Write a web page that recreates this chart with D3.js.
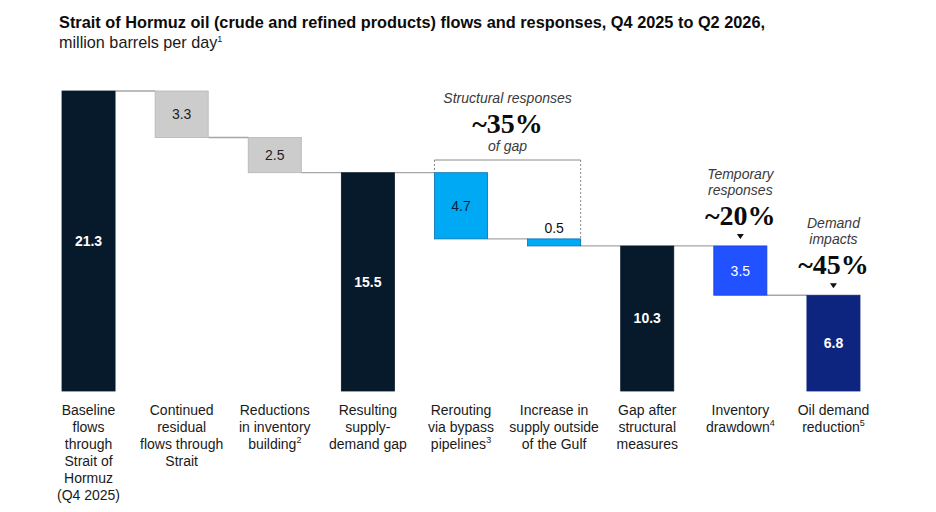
<!DOCTYPE html>
<html>
<head>
<meta charset="utf-8">
<script src="https://cdn.jsdelivr.net/npm/d3@7"></script>
<style>
  html, body { margin: 0; padding: 0; background: #fff; }
  svg { display: block; font-family: "Liberation Sans", Arial, sans-serif; }
</style>
</head>
<body>
<svg id="chart" width="936" height="512"></svg>
<script>
// ---------- DATA ----------
const titleText = "Strait of Hormuz oil (crude and refined products) flows and responses, Q4 2025 to Q2 2026,";
const subtitleText = "million barrels per day";
const subtitleNote = "1";

const categories = [
  ["Baseline", "flows", "through", "Strait of", "Hormuz", "(Q4 2025)"],
  ["Continued", "residual", "flows through", "Strait"],
  ["Reductions", "in inventory", "building"],
  ["Resulting", "supply-", "demand gap"],
  ["Rerouting", "via bypass", "pipelines"],
  ["Increase in", "supply outside", "of the Gulf"],
  ["Gap after", "structural", "measures"],
  ["Inventory", "drawdown"],
  ["Oil demand", "reduction"]
];
const categoryNotes = ["", "", "2", "", "3", "", "", "4", "5"];
const values = [21.3, -3.3, -2.5, 15.5, -4.7, -0.5, 10.3, -3.5, 6.8];
const barKinds = ["total", "residual", "residual", "total", "structural", "structural", "total", "temporary", "demand"];
const valueLabels = ["21.3", "3.3", "2.5", "15.5", "4.7", "0.5", "10.3", "3.5", "6.8"];

const annotationTitles = [["Structural responses"], ["Temporary", "responses"], ["Demand", "impacts"]];
const annotationPcts = ["~35%", "~20%", "~45%"];
const annotationSubs = ["of gap", "", ""];
const annotationBars = [[4, 5], [7], [8]];

// ---------- STYLES ----------
const fill = {
  total: "#071a2b", residual: "#cccccc", structural: "#00a9f4",
  temporary: "#2251ff", demand: "#0e2580"
};
const stroke = {
  total: "#071a2b", residual: "#b5b5b5", structural: "#0a6fb0",
  temporary: "#1a3fd0", demand: "#0e2580"
};
const labelColor = {
  total: "#ffffff", residual: "#222222", structural: "#0a1f3a",
  temporary: "#ffffff", demand: "#ffffff"
};

const svg = d3.select("#chart");

// compute waterfall spans
let running = 0;
const bars = values.map((v, i) => {
  let y0, y1;
  if (barKinds[i] === "total" || barKinds[i] === "demand") {
    y0 = 0; y1 = Math.abs(v); running = Math.abs(v);
  } else {
    y1 = running; y0 = running + v; running = y0;
  }
  return { i, y0, y1, kind: barKinds[i], label: valueLabels[i] };
});

const x = d3.scaleBand().domain(d3.range(categories.length))
  .range([62, 860]).paddingInner(0.43).paddingOuter(0);
const y = d3.scaleLinear().domain([0, 21.3]).range([391, 91]);
const bw = x.bandwidth();

// Title
function fitText(sel, target) {
  const len = sel.node().getComputedTextLength();
  if (len > target) sel.attr("textLength", target).attr("lengthAdjust", "spacingAndGlyphs");
}
const t = svg.append("text").attr("x", 59).attr("y", 28)
  .attr("font-size", 17).attr("font-weight", "bold").attr("fill", "#0b0b0b").text(titleText);
fitText(t, 706);
const st = svg.append("text").attr("x", 59).attr("y", 48)
  .attr("font-size", 16.2).attr("fill", "#1a1a1a");
st.append("tspan").text(subtitleText);
st.append("tspan").attr("font-size", 9).attr("dy", -6).text(subtitleNote);

// connectors
const connectors = [];
for (let i = 0; i < bars.length - 1; i++) {
  const b = bars[i];
  const level = b.kind === "total" ? b.y1 : b.y0;
  connectors.push({ x1: x(i) + bw, x2: x(i + 1), level });
}
svg.append("g").selectAll("line").data(connectors).join("line")
  .attr("x1", d => d.x1).attr("x2", d => d.x2)
  .attr("y1", d => y(d.level)).attr("y2", d => y(d.level))
  .attr("stroke", "#a6a6a6").attr("stroke-width", 1.3);

// bracket for structural responses
const bx1 = x(4), bx2 = x(5) + bw, byTop = 160;
const bg = svg.append("g").attr("stroke", "#8a8a8a").attr("fill", "none");
bg.append("line").attr("x1", bx1).attr("x2", bx2).attr("y1", byTop).attr("y2", byTop).attr("stroke-width", 1);
bg.append("line").attr("x1", bx1).attr("x2", bx1).attr("y1", byTop).attr("y2", y(bars[4].y1))
  .attr("stroke-dasharray", "2,2").attr("stroke-width", 1);
bg.append("line").attr("x1", bx2).attr("x2", bx2).attr("y1", byTop).attr("y2", y(bars[5].y0))
  .attr("stroke-dasharray", "2,2").attr("stroke-width", 1);

// bars
svg.append("g").selectAll("rect").data(bars).join("rect")
  .attr("x", d => x(d.i)).attr("width", bw)
  .attr("y", d => y(d.y1)).attr("height", d => y(d.y0) - y(d.y1))
  .attr("fill", d => fill[d.kind]).attr("stroke", d => stroke[d.kind]).attr("stroke-width", 0.8);

// value labels
svg.append("g").selectAll("text").data(bars).join("text")
  .attr("x", d => x(d.i) + bw / 2)
  .attr("y", d => {
    const h = y(d.y0) - y(d.y1);
    if (h < 20) return y(d.y1) - 6;
    return (y(d.y0) + y(d.y1)) / 2 + 5;
  })
  .attr("text-anchor", "middle").attr("font-size", 14)
  .attr("fill", d => (y(d.y0) - y(d.y1) < 20) ? "#111" : labelColor[d.kind])
  .attr("font-weight", d => (d.kind === "total" || d.kind === "demand") ? "bold" : "normal")
  .text(d => d.label);

// category labels
const catG = svg.append("g").attr("font-size", 14).attr("fill", "#1a1a1a");
categories.forEach((lines, i) => {
  const tx = catG.append("text").attr("x", x(i) + bw / 2).attr("y", 415).attr("text-anchor", "middle");
  lines.forEach((ln, k) => {
    const ts = tx.append("tspan").attr("x", x(i) + bw / 2).attr("dy", k === 0 ? 0 : 17);
    ts.append("tspan").text(ln);
    if (k === lines.length - 1 && categoryNotes[i]) {
      ts.append("tspan").attr("font-size", 9).attr("dy", -6).text(categoryNotes[i]);
    }
  });
});

// annotations
const serif = "'Liberation Serif', 'DejaVu Serif', serif";
annotationTitles.forEach((lines, a) => {
  const idx = annotationBars[a];
  const cx = idx.length > 1 ? (x(idx[0]) + x(idx[idx.length - 1]) + bw) / 2 : x(idx[0]) + bw / 2;
  const topBar = d3.max(idx, j => bars[j].y1);
  const g = svg.append("g");
  if (annotationSubs[a]) {
    g.append("text").attr("x", cx).attr("y", 103).attr("text-anchor", "middle")
      .attr("font-size", 14).attr("font-style", "italic").attr("fill", "#3a3a3a").text(lines[0]);
    g.append("text").attr("x", cx).attr("y", 133).attr("text-anchor", "middle")
      .attr("font-family", serif).attr("font-weight", "bold")
      .attr("font-size", 28).attr("fill", "#0b0b0b").text(annotationPcts[a]);
    g.append("text").attr("x", cx).attr("y", 151).attr("text-anchor", "middle")
      .attr("font-size", 14).attr("font-style", "italic").attr("fill", "#3a3a3a").text(annotationSubs[a]);
  } else {
    const barTop = y(topBar);
    g.append("path")
      .attr("d", `M${cx - 3.5},${barTop - 12}L${cx + 3.5},${barTop - 12}L${cx},${barTop - 7}Z`)
      .attr("fill", "#111");
    g.append("text").attr("x", cx).attr("y", barTop - 21).attr("text-anchor", "middle")
      .attr("font-family", serif).attr("font-weight", "bold")
      .attr("font-size", 28).attr("fill", "#0b0b0b").text(annotationPcts[a]);
    lines.forEach((ln, k) => {
      g.append("text").attr("x", cx).attr("y", barTop - 51 - (lines.length - 1 - k) * 16)
        .attr("text-anchor", "middle").attr("font-size", 14).attr("font-style", "italic")
        .attr("fill", "#3a3a3a").text(ln);
    });
  }
});
</script>
</body>
</html>
